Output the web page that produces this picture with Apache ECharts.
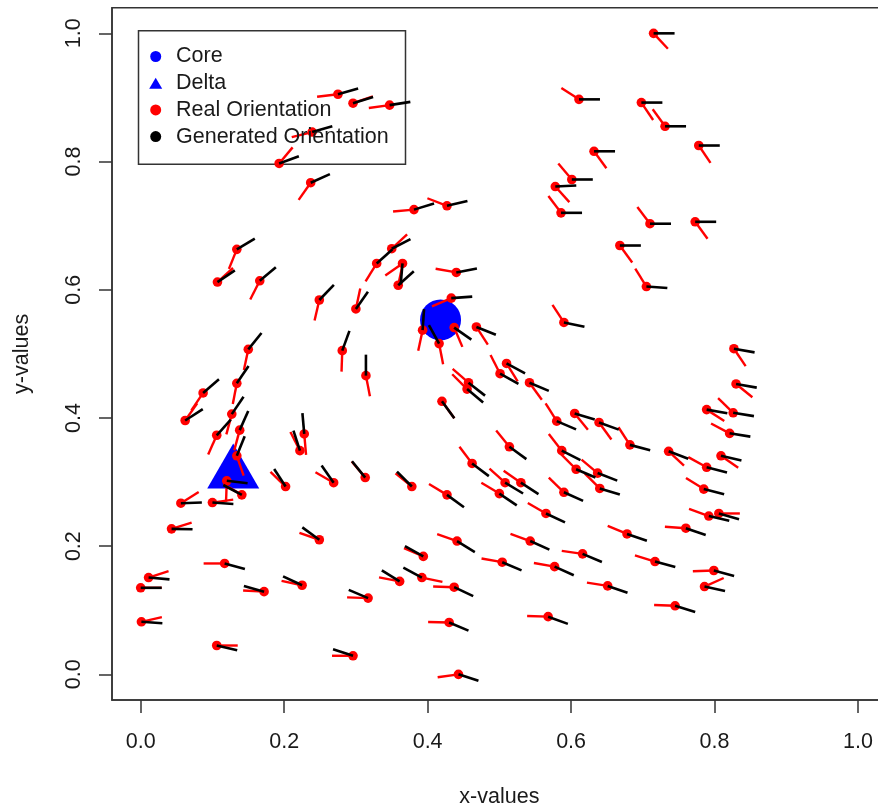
<!DOCTYPE html>
<html>
<head>
<meta charset="utf-8">
<script src="https://cdn.jsdelivr.net/npm/echarts@6/dist/echarts.min.js"></script>
<style>
  html, body { margin: 0; padding: 0; background: #fff; }
  #chart { width: 878px; height: 809px; }
</style>
</head>
<body>
<div id="chart"></div>
<script>
// Singular points
const coreX = [0.418];
const coreY = [0.553];
const deltaX = [0.129];
const deltaY = [0.325];

// Sample positions (x, y) of the orientation field
const xValues = [
  0.275, 0.296, 0.347, 0.239, 0.193, 0.237, 0.611, 0.632, 0.601, 0.578,
  0.586, 0.381, 0.427, 0.715, 0.698, 0.731, 0.778, 0.710, 0.773, 0.668,
  0.705,
  0.134, 0.107, 0.166, 0.249, 0.300, 0.150, 0.281, 0.314, 0.134, 0.087,
  0.062, 0.127, 0.106, 0.138, 0.134, 0.228, 0.222,
  0.329, 0.350, 0.365, 0.359, 0.440, 0.433, 0.393, 0.416, 0.437, 0.468,
  0.590, 0.510, 0.501, 0.457, 0.455, 0.542, 0.420, 0.605, 0.639, 0.580,
  0.682, 0.514, 0.587, 0.462,
  0.827, 0.830, 0.789, 0.826, 0.821, 0.736, 0.809,
  0.789, 0.785, 0.792, 0.806, 0.760, 0.678, 0.717, 0.799, 0.786, 0.651,
  0.745,
  0.378, 0.427, 0.508, 0.500, 0.530, 0.590, 0.607, 0.637, 0.640, 0.565,
  0.441, 0.543, 0.394, 0.616, 0.504, 0.577, 0.361, 0.392, 0.437, 0.430,
  0.568, 0.443,
  0.120, 0.141, 0.100, 0.056, 0.043, 0.202, 0.269, 0.313, 0.249, 0.117,
  0.225, 0.172, 0.011, 0.000, 0.001, 0.106, 0.296, 0.317
];
const yValues = [
  0.905, 0.891, 0.888, 0.846, 0.797, 0.767, 0.897, 0.816, 0.772, 0.761,
  0.720, 0.725, 0.731, 1.000, 0.892, 0.855, 0.825, 0.703, 0.706, 0.669,
  0.605,
  0.663, 0.612, 0.614, 0.584, 0.570, 0.507, 0.505, 0.466, 0.454, 0.439,
  0.396, 0.406, 0.373, 0.381, 0.341, 0.375, 0.349,
  0.641, 0.664, 0.641, 0.607, 0.627, 0.587, 0.537, 0.516, 0.541, 0.542,
  0.549, 0.485, 0.469, 0.455, 0.445, 0.455, 0.426, 0.407, 0.393, 0.395,
  0.358, 0.355, 0.349, 0.329,
  0.508, 0.453, 0.413, 0.408, 0.376, 0.348, 0.341,
  0.323, 0.289, 0.247, 0.251, 0.228, 0.219, 0.176, 0.162, 0.137, 0.138,
  0.107,
  0.293, 0.280, 0.299, 0.282, 0.299, 0.284, 0.320, 0.314, 0.290, 0.251,
  0.208, 0.208, 0.184, 0.188, 0.175, 0.168, 0.145, 0.151, 0.136, 0.081,
  0.090, 0.000,
  0.302, 0.280, 0.268, 0.267, 0.227, 0.293, 0.299, 0.307, 0.210, 0.173,
  0.139, 0.129, 0.151, 0.135, 0.082, 0.045, 0.029, 0.119
];
// Direction of the measured ridge orientation, degrees counter-clockwise from +x
const realAngle = [
  187, 19, 188, 194, 50, 235, 147, -54, 130, -48,
  127, 185, 159, -47, -56, 126, -56, 127, -54, -54,
  122,
  -112, 42, -117, -103, 78, -102, -92, -79, -101, -124,
  55, -105, -114, -105, -71, -85, 117,
  -122, 43, -145, 78, 170, -157, -102, -79, -67, -57,
  123, -58, 117, 139, 135, -54, -54, -51, -54, 122,
  123, 129, 128, 127,
  -56, -39, -33, 136, 152, -43, -35,
  151, 148, 160, 0, 176, 157, 163, 182, 24, 171,
  178,
  141, 149, 138, 149, 145, 136, 135, 140, 135, 150,
  161, 160, 157, 172, 170, 170, 169, -12, 178, 179,
  178, 188,
  -92, 150, 8, 32, 17, 136, 150, 130, 161, 180,
  168, 177, 18, 0, 13, 0, 180, 178
];
// Direction of the generated (model) orientation, same convention
const generatedAngle = [
  16, 17, 9, 16, 20, 24, 0, 0, 0, 3,
  0, 17, 13, 0, 0, 0, 0, 0, 0, 0,
  -4,
  31, 34, 40, 46, 55, 51, 70, 90, 56, 41,
  33, 56, 48, 66, 68, 95, 108,
  42, 27, -95, 42, 11, 4, 86, 119, -35, -22,
  -12, -28, -29, -38, -40, -23, -54, -17, -20, -23,
  -15, -36, -27, -37,
  -10, -10, -10, -9, -9, -21, -13,
  -14, -14, -13, -16, -19, -19, -15, -15, -12, -19,
  -17,
  135, -36, -31, -34, -33, -24, -23, -21, -17, -25,
  -32, -24, 151, -23, -23, -24, 148, 152, -25, -23,
  -20, -18,
  -7, 152, -4, 2, -1, 123, 125, 129, 144, -15,
  155, 164, -5, 0, -4, -13, 162, 157
];

const axisTicks = [0, 0.2, 0.4, 0.6, 0.8, 1.0];

const FONT = '"Liberation Sans", Arial, sans-serif';
const RAY = 21; // ray length in px

const realData = xValues.map((x, i) => [x, yValues[i], realAngle[i]]);
const genData = xValues.map((x, i) => [x, yValues[i], generatedAngle[i]]);

function rayItem(color, width, withDot) {
  return function (params, api) {
    const p = api.coord([api.value(0), api.value(1)]);
    const a = api.value(2) * Math.PI / 180;
    const children = [];
    if (withDot) {
      children.push({ type: 'circle', shape: { cx: p[0], cy: p[1], r: 4.8 }, style: { fill: color } });
    }
    children.push({
      type: 'line',
      shape: { x1: p[0], y1: p[1], x2: p[0] + RAY * Math.cos(a), y2: p[1] - RAY * Math.sin(a) },
      style: { stroke: color, lineWidth: width, lineCap: 'butt' }
    });
    return { type: 'group', children };
  };
}

const chart = echarts.init(document.getElementById('chart'), null, { renderer: 'canvas' });
chart.setOption({
  animation: false,
  backgroundColor: '#fff',
  textStyle: { fontFamily: FONT },
  grid: {
    left: 112, top: 7.7, width: 774.7, height: 692.3,
    outerBoundsMode: 'none', containLabel: false,
    show: true, borderColor: '#333', borderWidth: 1.5, backgroundColor: 'transparent'
  },
  xAxis: {
    type: 'value', min: -0.04, max: 1.04,
    name: 'x-values', nameLocation: 'middle', nameGap: 86,
    nameTextStyle: { fontSize: 21.5, color: '#1a1a1a', fontFamily: FONT },
    axisLine: { show: true, onZero: false, lineStyle: { color: '#333', width: 1.5 } },
    axisTick: { show: true, inside: false, length: 13, customValues: axisTicks, lineStyle: { color: '#333', width: 1.5 } },
    axisLabel: {
      customValues: axisTicks, margin: 31, fontSize: 21.5, color: '#1a1a1a', fontFamily: FONT,
      formatter: v => v.toFixed(1)
    },
    splitLine: { show: false }
  },
  yAxis: {
    type: 'value', min: -0.04, max: 1.04,
    name: 'y-values', nameLocation: 'middle', nameGap: 79, nameRotate: 90,
    nameTextStyle: { fontSize: 21.5, color: '#1a1a1a', fontFamily: FONT },
    axisLine: { show: true, onZero: false, lineStyle: { color: '#333', width: 1.5 } },
    axisTick: { show: true, inside: false, length: 13, customValues: axisTicks, lineStyle: { color: '#333', width: 1.5 } },
    axisLabel: {
      customValues: axisTicks, margin: 27, rotate: 90, fontSize: 21.5, color: '#1a1a1a', fontFamily: FONT,
      formatter: v => v.toFixed(1)
    },
    splitLine: { show: false }
  },
  legend: {
    orient: 'vertical', left: 149.2, top: 45.5, padding: 0,
    itemWidth: 13, itemHeight: 11, itemGap: 4.7,
    selectedMode: false,
    textStyle: { fontSize: 21.5, lineHeight: 22, padding: [0, 0, 0, 8.8], color: '#1a1a1a', fontFamily: FONT },
    data: [
      { name: 'Core', icon: 'circle' },
      { name: 'Delta', icon: 'triangle' },
      { name: 'Real Orientation', icon: 'circle' },
      { name: 'Generated Orientation', icon: 'circle' }
    ]
  },
  graphic: [{
    type: 'rect', left: 136, top: 28.3, z: 0,
    shape: { width: 267, height: 133.4 },
    style: { fill: 'none', stroke: '#333', lineWidth: 1.5 }
  }],
  series: [
    {
      name: 'Core', type: 'scatter', z: 1,
      data: coreX.map((x, i) => [x, coreY[i]]),
      symbol: 'circle', symbolSize: 41,
      itemStyle: { color: '#0000FF', opacity: 1 }
    },
    {
      name: 'Delta', type: 'scatter', z: 1,
      data: deltaX.map((x, i) => [x, deltaY[i]]),
      symbol: 'triangle', symbolSize: [52, 45],
      itemStyle: { color: '#0000FF', opacity: 1 }
    },
    {
      name: 'Real Orientation', type: 'custom', z: 2,
      dimensions: ['x', 'y', 'angle'],
      encode: { x: 0, y: 1 },
      data: realData,
      itemStyle: { color: '#FF0000' },
      renderItem: rayItem('#FF0000', 2.4, true)
    },
    {
      name: 'Generated Orientation', type: 'custom', z: 3,
      dimensions: ['x', 'y', 'angle'],
      encode: { x: 0, y: 1 },
      data: genData,
      itemStyle: { color: '#000000' },
      renderItem: rayItem('#000000', 2.6, false)
    }
  ]
});
</script>
</body>
</html>
